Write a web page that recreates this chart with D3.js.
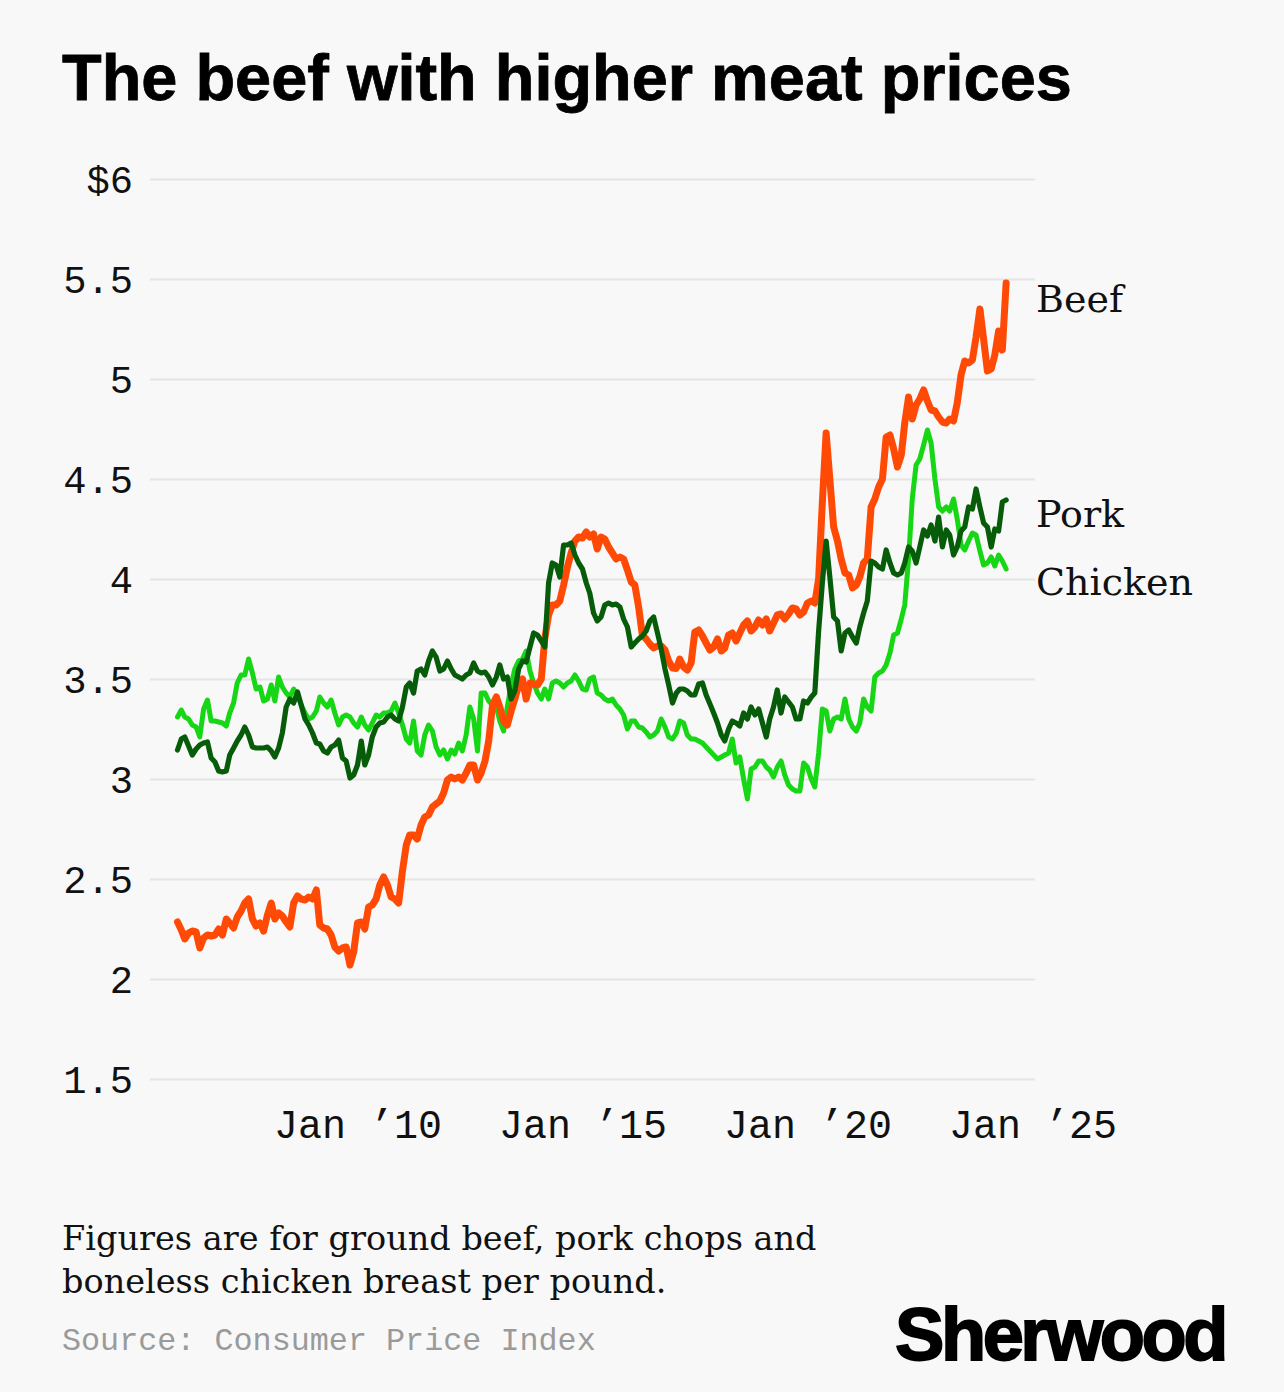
<!DOCTYPE html>
<html><head><meta charset="utf-8">
<script src="https://cdn.jsdelivr.net/npm/d3@7"></script>
<style>
html,body{margin:0;padding:0;background:#f8f8f8;}
svg{display:block;}
</style></head><body>
<svg id="c" width="1284" height="1392"></svg>
<script>
// Monthly average prices per pound, Jan 2006 onward
const startDate = new Date(2006, 0, 1);
const beef = [
2.285,2.245,2.20,2.23,2.24,2.235,2.155,2.205,2.22,2.215,2.22,2.25,
2.22,2.30,2.28,2.255,2.31,2.34,2.38,2.40,2.30,2.265,2.28,2.24,
2.32,2.38,2.30,2.33,2.315,2.285,2.26,2.38,2.415,2.40,2.395,2.41,
2.40,2.445,2.27,2.255,2.25,2.22,2.16,2.14,2.155,2.16,2.07,2.135,
2.28,2.285,2.25,2.36,2.37,2.40,2.47,2.51,2.47,2.41,2.40,2.38,
2.54,2.67,2.72,2.72,2.70,2.77,2.81,2.82,2.86,2.875,2.89,2.93,
2.995,3.01,3.00,3.01,2.995,3.03,3.07,3.07,2.995,3.03,3.09,3.19,
3.37,3.41,3.36,3.29,3.27,3.34,3.40,3.47,3.50,3.40,3.48,3.475,
3.47,3.50,3.70,3.82,3.87,3.87,3.89,3.97,4.06,4.13,4.19,4.21,
4.205,4.235,4.21,4.225,4.15,4.21,4.20,4.16,4.13,4.10,4.11,4.10,
4.045,3.985,3.97,3.86,3.72,3.70,3.675,3.655,3.665,3.665,3.645,3.59,
3.555,3.553,3.60,3.56,3.545,3.58,3.735,3.745,3.715,3.68,3.645,3.66,
3.70,3.64,3.655,3.72,3.73,3.69,3.73,3.77,3.79,3.74,3.76,3.795,
3.77,3.80,3.74,3.78,3.82,3.825,3.80,3.825,3.855,3.85,3.82,3.835,
3.88,3.89,3.88,4.00,4.38,4.73,4.50,4.26,4.19,4.10,4.03,4.02,
3.955,3.97,4.01,4.08,4.10,4.36,4.40,4.46,4.50,4.71,4.72,4.65,
4.56,4.62,4.78,4.91,4.80,4.87,4.90,4.945,4.89,4.845,4.84,4.81,
4.785,4.78,4.80,4.79,4.88,5.02,5.09,5.08,5.095,5.21,5.35,5.20,
5.04,5.05,5.12,5.24,5.145,5.48
];
const pork = [
3.145,3.20,3.21,3.165,3.12,3.15,3.17,3.18,3.185,3.105,3.085,3.04,
3.035,3.04,3.12,3.155,3.19,3.22,3.26,3.22,3.16,3.155,3.155,3.155,
3.16,3.14,3.11,3.155,3.23,3.36,3.40,3.38,3.435,3.37,3.30,3.27,
3.23,3.18,3.175,3.14,3.13,3.16,3.17,3.195,3.105,3.09,3.005,3.02,
3.07,3.19,3.07,3.12,3.21,3.26,3.28,3.285,3.31,3.32,3.30,3.29,
3.36,3.46,3.48,3.43,3.54,3.55,3.52,3.59,3.64,3.61,3.54,3.55,
3.59,3.55,3.52,3.51,3.50,3.52,3.53,3.58,3.54,3.53,3.535,3.51,
3.47,3.51,3.57,3.50,3.51,3.40,3.44,3.55,3.59,3.585,3.66,3.73,
3.72,3.69,3.66,3.98,4.08,4.07,4.01,4.17,4.17,4.18,4.12,4.08,
4.05,3.98,3.93,3.83,3.79,3.81,3.87,3.88,3.87,3.875,3.86,3.80,
3.76,3.66,3.68,3.70,3.715,3.74,3.79,3.81,3.73,3.65,3.55,3.47,
3.38,3.43,3.45,3.45,3.44,3.42,3.42,3.475,3.48,3.42,3.375,3.33,
3.28,3.22,3.19,3.25,3.29,3.28,3.265,3.33,3.30,3.36,3.32,3.35,
3.28,3.21,3.30,3.36,3.445,3.33,3.41,3.385,3.36,3.30,3.30,3.39,
3.38,3.41,3.43,3.74,3.98,4.19,4.01,3.81,3.79,3.64,3.73,3.745,
3.71,3.68,3.76,3.83,3.89,4.09,4.08,4.06,4.05,4.145,4.08,4.03,
4.02,4.03,4.08,4.16,4.14,4.08,4.16,4.245,4.215,4.27,4.19,4.31,
4.16,4.245,4.22,4.12,4.16,4.24,4.26,4.36,4.35,4.45,4.36,4.28,
4.26,4.16,4.25,4.24,4.385,4.395
];
const chicken = [
3.31,3.345,3.31,3.30,3.27,3.26,3.21,3.35,3.395,3.29,3.29,3.285,
3.28,3.265,3.33,3.38,3.48,3.52,3.52,3.60,3.53,3.45,3.46,3.39,
3.40,3.47,3.39,3.51,3.46,3.43,3.41,3.45,3.42,3.37,3.33,3.30,
3.31,3.34,3.41,3.38,3.36,3.395,3.33,3.27,3.31,3.32,3.31,3.28,
3.26,3.31,3.27,3.245,3.28,3.32,3.31,3.33,3.33,3.34,3.38,3.33,
3.27,3.20,3.18,3.29,3.14,3.12,3.22,3.27,3.24,3.16,3.12,3.145,
3.10,3.145,3.125,3.18,3.14,3.22,3.36,3.30,3.14,3.43,3.43,3.39,
3.37,3.36,3.29,3.24,3.36,3.47,3.55,3.59,3.60,3.64,3.54,3.48,
3.43,3.40,3.45,3.40,3.48,3.49,3.48,3.46,3.48,3.49,3.52,3.49,
3.45,3.445,3.50,3.51,3.43,3.42,3.40,3.39,3.40,3.37,3.35,3.32,
3.25,3.29,3.29,3.26,3.255,3.235,3.21,3.22,3.24,3.30,3.26,3.21,
3.20,3.23,3.29,3.28,3.22,3.20,3.20,3.19,3.18,3.16,3.14,3.12,
3.10,3.11,3.12,3.13,3.20,3.08,3.11,3.00,2.90,3.05,3.06,3.09,
3.09,3.06,3.045,3.01,3.06,3.09,3.02,2.97,2.95,2.94,2.94,3.08,
3.06,3.00,2.96,3.13,3.35,3.34,3.24,3.30,3.31,3.30,3.40,3.30,
3.26,3.24,3.28,3.40,3.36,3.34,3.51,3.53,3.54,3.57,3.63,3.72,
3.73,3.80,3.87,4.10,4.40,4.57,4.60,4.67,4.745,4.68,4.50,4.36,
4.34,4.36,4.34,4.40,4.30,4.17,4.145,4.19,4.23,4.22,4.14,4.07,
4.08,4.11,4.065,4.12,4.09,4.05
];
const seriesNames = ["Chicken", "Beef", "Pork"];
const yTicks = [1.5, 2, 2.5, 3, 3.5, 4, 4.5, 5, 5.5, 6];
const yTickLabels = ["1.5","2","2.5","3","3.5","4","4.5","5","5.5","$6"];
const xTicks = ["2010-01-01","2015-01-01","2020-01-01","2025-01-01"];
const xTickLabels = ["Jan \u201910","Jan \u201915","Jan \u201920","Jan \u201925"];
const titleText = "The beef with higher meat prices";
const noteLines = ["Figures are for ground beef, pork chops and", "boneless chicken breast per pound."];
const sourceText = "Source: Consumer Price Index";
const brandText = "Sherwood";

// ---------- rendering ----------
const svg = d3.select("#c");
const W = 1284, H = 1392;
svg.append("rect").attr("width", W).attr("height", H).attr("fill", "#f8f8f8");

const MONO = "'Liberation Mono','DejaVu Sans Mono',monospace";
const SERIF = "'DejaVu Serif','Liberation Serif',serif";
const SANS = "'Liberation Sans',Arial,sans-serif";

function fit(sel, target) {
  const fs = parseFloat(sel.attr("font-size"));
  const w = sel.node().getComputedTextLength();
  const nfs = fs * target / w;
  sel.attr("font-size", nfs);
  return nfs;
}

const gridLeft = 150, gridRight = 1035;
const x = d3.scaleTime()
  .domain([new Date(2006, 0, 1), new Date(2025, 0, 1)])
  .range([177.5, 1032.5]);
const y = d3.scaleLinear().domain([1.5, 6]).range([1079, 179]);

// title
const title = svg.append("text").text(titleText)
  .attr("x", 62).attr("y", 100)
  .attr("font-family", SANS).attr("font-weight", 700)
  .attr("font-size", 60).attr("fill", "#000")
  .attr("stroke", "#000").attr("stroke-width", 0.8);
fit(title, 1010);

// y axis + grid
const yAxis = d3.axisLeft(y).tickValues(yTicks)
  .tickFormat((d, i) => yTickLabels[i])
  .tickSizeInner(-(gridRight - gridLeft)).tickSizeOuter(0).tickPadding(17);
const gy = svg.append("g").attr("transform", `translate(${gridLeft},0)`).call(yAxis);
gy.select(".domain").remove();
gy.selectAll(".tick line").attr("stroke", "#e4e4e4").attr("stroke-width", 2.2);
gy.selectAll(".tick text").attr("font-family", MONO).attr("font-size", 39)
  .attr("fill", "#111").attr("dy", "0.36em");

// x axis
const xAxis = d3.axisBottom(x).tickValues(xTicks.map(s => new Date(s + "T00:00:00")))
  .tickFormat((d, i) => xTickLabels[i]).tickSize(0);
const gx = svg.append("g").attr("transform", `translate(0,1079)`).call(xAxis);
gx.select(".domain").remove();
gx.selectAll(".tick text").attr("font-family", MONO).attr("font-size", 40)
  .attr("fill", "#111").attr("y", 59).attr("dy", 0);
{
  const t0 = gx.select(".tick text");
  const nfs = fit(t0, 168);
  gx.selectAll(".tick text").attr("font-size", nfs);
  gy.selectAll(".tick text").attr("font-size", nfs * 0.97);
}

// series
const toPoints = arr => arr.map((v, i) => ({ date: d3.timeMonth.offset(startDate, i), v }));
const data = { Beef: toPoints(beef), Pork: toPoints(pork), Chicken: toPoints(chicken) };
const colors = { Beef: "#ff4a06", Pork: "#065c08", Chicken: "#16d616" };
const widths = { Beef: 7, Pork: 5.2, Chicken: 5 };
const line = d3.line().x(d => x(d.date)).y(d => y(d.v));
const gl = svg.append("g");
seriesNames.forEach(n => {
  gl.append("path").datum(data[n])
    .attr("d", line).attr("fill", "none")
    .attr("stroke", colors[n]).attr("stroke-width", widths[n])
    .attr("stroke-linejoin", "round").attr("stroke-linecap", "round");
});

// series labels
const labelPos = { Beef: 312, Pork: 527, Chicken: 595 };
const lab = {};
["Beef", "Pork", "Chicken"].forEach(n => {
  lab[n] = svg.append("text").text(n).attr("x", 1036).attr("y", labelPos[n])
    .attr("font-family", SERIF).attr("font-size", 36).attr("fill", "#111");
});
{
  const nfs = fit(lab.Chicken, 157);
  lab.Beef.attr("font-size", nfs); lab.Pork.attr("font-size", nfs);
}

// notes
const n1 = svg.append("text").text(noteLines[0]).attr("x", 62).attr("y", 1250)
  .attr("font-family", SERIF).attr("font-size", 32).attr("fill", "#111");
const nfsN = fit(n1, 755);
svg.append("text").text(noteLines[1]).attr("x", 62).attr("y", 1293)
  .attr("font-family", SERIF).attr("font-size", nfsN).attr("fill", "#111");

// source
const src = svg.append("text").text(sourceText).attr("x", 62).attr("y", 1350)
  .attr("font-family", MONO).attr("font-size", 32).attr("fill", "#9a9a9a");
fit(src, 534);

// brand
const br = svg.append("text").text(brandText).attr("x", 895).attr("y", 1360)
  .attr("font-family", SANS).attr("font-weight", 700).attr("font-size", 74)
  .attr("fill", "#000").attr("stroke", "#000").attr("stroke-width", 1.8)
  .attr("letter-spacing", 0);
{
  const w = br.node().getComputedTextLength();
  const ls = (330 - w) / brandText.length;
  br.attr("letter-spacing", ls);
}
</script>
</body></html>
